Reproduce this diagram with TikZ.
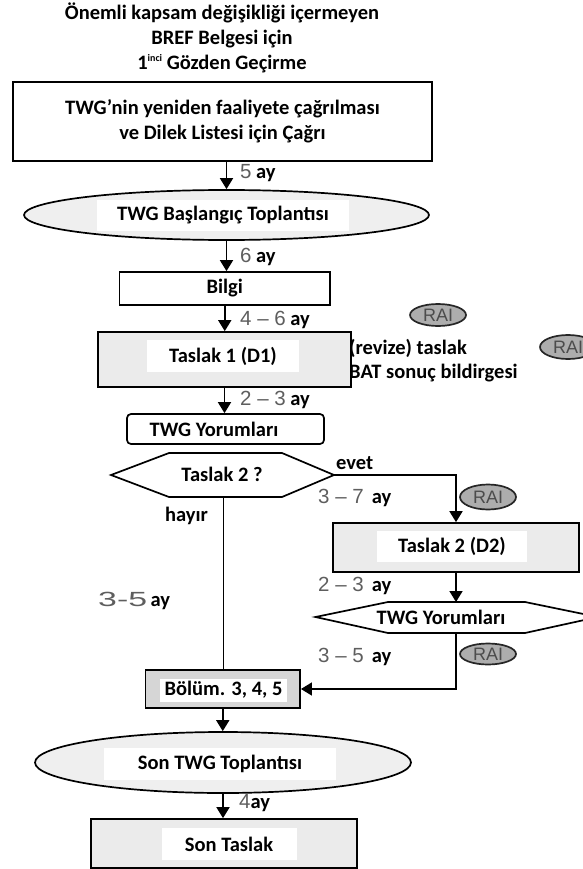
\documentclass[tikz,border=0pt]{standalone}
\usepackage{fontspec}
\setmainfont{Carlito}
\newfontfamily\numfont{Liberation Sans}
\usetikzlibrary{arrows.meta,shapes.geometric}
\definecolor{numgray}{HTML}{5E5E5E}
\definecolor{boxgray}{HTML}{EBEBEB}
\definecolor{ellgray}{HTML}{EFEFEF}
\definecolor{bolgray}{HTML}{D6D6D6}
\definecolor{raigray}{HTML}{ADADAD}
\newcommand\gnum[1]{{\numfont\mdseries\color{numgray}#1}}
\begin{document}
\begin{tikzpicture}[x=1pt,y=-1pt,
  every node/.style={font=\fontsize{20.5}{25}\selectfont\bfseries, inner sep=0pt},
  boxw/.style={draw, line width=1.7pt, fill=white, rectangle},
  boxg/.style={draw, line width=1.7pt, fill=boxgray, rectangle},
  inbox/.style={fill=white, rectangle},
  ell/.style={ellipse, draw, line width=1.7pt, fill=ellgray},
  rai/.style={ellipse, draw=black!85, line width=1.7pt, fill=raigray, minimum width=56pt, minimum height=22pt, font=\fontsize{18}{18}\selectfont\numfont, text=black!70},
  arr/.style={line width=1.7pt, -{Triangle[length=11pt,width=13pt]}},
  ln/.style={line width=1.7pt},
  lab/.style={anchor=west}]
\useasboundingbox (0,0) rectangle (582,869);

% title
\node[align=center] (title) at (222,38) {Önemli kapsam değişikliği içermeyen\\BREF Belgesi için\\1\raisebox{8pt}{\fontsize{10}{10}\selectfont inci} Gözden Geçirme};

% box 1
\node[boxw, minimum width=419pt, minimum height=79pt, align=center] (b1) at (222.5,121.5) {TWG’nin yeniden faaliyete çağrılması\\ve Dilek Listesi için Çağrı};

% ellipse 1
\node[ell, minimum width=405pt, minimum height=50pt] (e1) at (226.5,215) {};
\node[inbox, minimum width=252pt, minimum height=31pt] (e1t) at (223,215) {TWG Başlangıç Toplantısı};

% Bilgi
\node[boxw, minimum width=210.5pt, minimum height=33pt] (bil) at (224.75,288.5) {Bilgi};

% side texts
\node[lab] (rev) at (349,348) {(revize) taslak};
\node[lab] (bat) at (349,373) {BAT sonuç bildirgesi};

% Taslak 1
\node[boxg, minimum width=253pt, minimum height=55pt] (t1) at (224.5,359.5) {};
\node[inbox, minimum width=152pt, minimum height=32pt] (t1t) at (223,356) {Taslak 1 (D1)};

% RAI marks
\node[rai] (rai1) at (438,315) {RAI};
\node[rai, minimum height=24pt] (rai2) at (568,347) {RAI};
\node[rai, minimum height=25pt] (rai3) at (488,497) {RAI};
\node[rai, minimum height=21pt] (rai4) at (488,654) {RAI};

% TWG Yorumlari (rounded)
\node[boxw, rounded corners=4pt, minimum width=197pt, minimum height=30pt] (yor) at (225.5,429) {};
\node (yort) at (214,429) {TWG Yorumları};

% hexagon 1
\draw[ln, fill=white] (111,475) -- (169,453) -- (282,453) -- (334,475) -- (282,497) -- (169,497) -- cycle;
\node (q1) at (222,474) {Taslak 2 ?};
\coordinate (q1r) at (334,475);
\coordinate (q1b) at (223.5,497);

% Taslak 2 (D2)
\node[boxg, minimum width=246pt, minimum height=49pt] (d2) at (456,547.5) {};
\node[inbox, minimum width=150pt, minimum height=31pt] (d2t) at (452,546) {Taslak 2 (D2)};

% hexagon 2
\draw[ln, fill=white] (315.5,617) -- (388,602) -- (525,602) -- (598,617) -- (525,633) -- (388,633) -- cycle;
\node (q2) at (441,617) {TWG Yorumları};
\coordinate (q2t) at (456,602);
\coordinate (q2b) at (456,633);

% Bolum
\node[draw, line width=1.9pt, fill=bolgray, minimum width=154.5pt, minimum height=38pt] (bol) at (222.75,689) {};
\node[inbox, minimum width=127pt, minimum height=23pt] (bolt) at (223.5,690) {Bölüm. 3, 4, 5};

% Son TWG ellipse
\node[ell, minimum width=376pt, minimum height=61pt] (e2) at (223,762.5) {};
\node[inbox, minimum width=232pt, minimum height=32pt] (e2t) at (220,764) {Son TWG Toplantısı};

% Son Taslak
\node[boxg, minimum width=266pt, minimum height=49pt] (son) at (224,843.5) {};
\node[inbox, minimum width=135pt, minimum height=32pt] (sont) at (229,844) {Son Taslak};

% connectors
\draw[arr] (e1.north |- b1.south) -- (e1.north);
\draw[arr] (e1.south) -- (e1.south |- bil.north);
\draw[arr] (bil.south) -- (bil.south |- t1.north);
\draw[arr] (t1.south) -- (t1.south |- yor.north);
\draw[arr] (q1r) -| (d2.north);
\draw[ln] (q1b) -- (q1b |- bol.north);
\draw[arr] (d2.south) -- (q2t);
\draw[arr] (q2b) |- (bol.east);
\draw[arr] (bol.south) -- (bol.south |- e2.north);
\draw[arr] (e2.south) -- (e2.south |- son.north);

% labels
\node[lab] (l1) at (240,173) {\gnum{5} ay};
\node[lab] (l2) at (240,257) {\gnum{6} ay};
\node[lab] (l3) at (240,320) {\gnum{4 – 6} ay};
\node[lab] (l4) at (240,400) {\gnum{2 – 3} ay};
\node[lab] (evet) at (336,463) {evet};
\node[lab] (l5) at (318,498) {\gnum{3 – 7}\, ay};
\node (hay) at (186.5,516) {hayır};
\node[lab] (l6) at (318,586) {\gnum{2 – 3}\, ay};
\node[lab] (l7) at (318,657) {\gnum{3 – 5}\, ay};
\node[lab] (l8) at (98,601) {\scalebox{1.65}[1]{\gnum{3-5}}\,ay};
\node[lab] (l9) at (239,803) {\gnum{4}ay};
\end{tikzpicture}
\end{document}
